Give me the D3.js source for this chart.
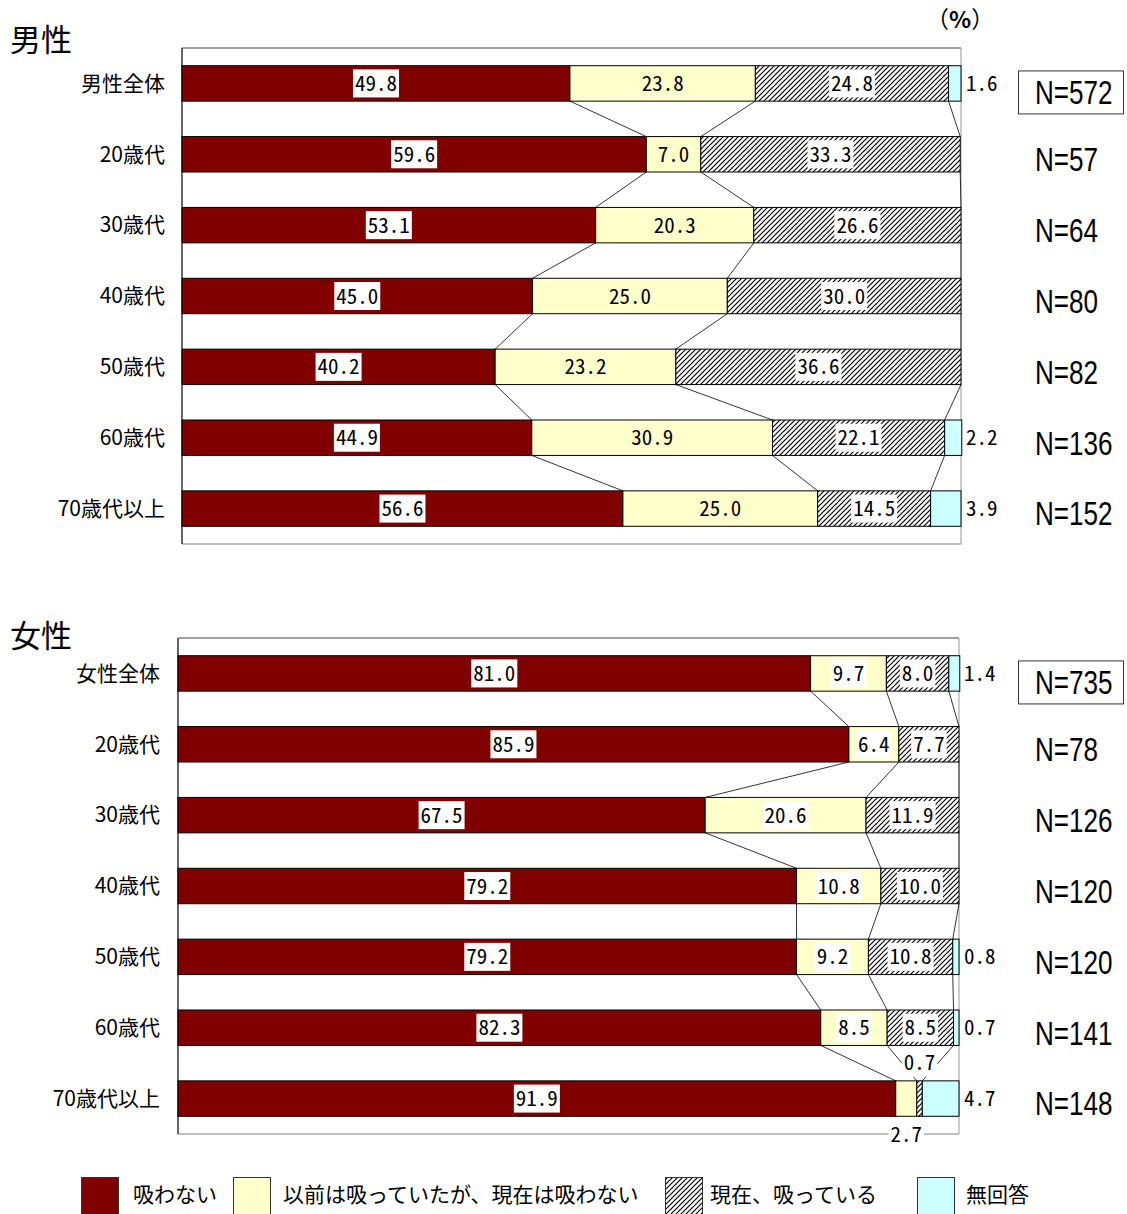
<!DOCTYPE html>
<html lang="ja">
<head>
<meta charset="utf-8">
<script src="https://cdn.jsdelivr.net/npm/d3@7"></script>
<style>
  html, body { margin: 0; padding: 0; background: #fff; }
  svg { display: block; }
  .cjk { font-family: "Noto Sans CJK JP", "Noto Sans", sans-serif; }
  .num { font-family: "Noto Sans Mono CJK JP", "Liberation Mono", "DejaVu Sans Mono", monospace; }
  .nlab { font-family: "Liberation Sans", Arial, sans-serif; }
</style>
</head>
<body>
<script>
// ---- data ----
const maleCategories = ["男性全体", "20歳代", "30歳代", "40歳代", "50歳代", "60歳代", "70歳代以上"];
const maleNonSmoker = [49.8, 59.6, 53.1, 45.0, 40.2, 44.9, 56.6];
const maleFormer    = [23.8, 7.0, 20.3, 25.0, 23.2, 30.9, 25.0];
const maleSmoker    = [24.8, 33.3, 26.6, 30.0, 36.6, 22.1, 14.5];
const maleNoAnswer  = [1.6, 0, 0, 0, 0, 2.2, 3.9];
const maleN         = [572, 57, 64, 80, 82, 136, 152];

const femaleCategories = ["女性全体", "20歳代", "30歳代", "40歳代", "50歳代", "60歳代", "70歳代以上"];
const femaleNonSmoker = [81.0, 85.9, 67.5, 79.2, 79.2, 82.3, 91.9];
const femaleFormer    = [9.7, 6.4, 20.6, 10.8, 9.2, 8.5, 2.7];
const femaleSmoker    = [8.0, 7.7, 11.9, 10.0, 10.8, 8.5, 0.7];
const femaleNoAnswer  = [1.4, 0, 0, 0, 0.8, 0.7, 4.7];
const femaleN         = [735, 78, 126, 120, 120, 141, 148];

const seriesNames = ["吸わない", "以前は吸っていたが、現在は吸わない", "現在、吸っている", "無回答"];

// ---- drawing ----
const W = 1127, H = 1214;
const svg = d3.select("body").append("svg").attr("width", W).attr("height", H);

const defs = svg.append("defs");
const pat = defs.append("pattern")
  .attr("id", "hatch").attr("patternUnits", "userSpaceOnUse")
  .attr("width", 5).attr("height", 5);
pat.append("rect").attr("width", 5).attr("height", 5).attr("fill", "#fff");
pat.append("path")
  .attr("d", "M-1,1 l2,-2 M0,5 l5,-5 M4,6 l2,-2")
  .attr("stroke", "#000").attr("stroke-width", 1.2);

const fills = ["#800000", "#FFFFCC", "url(#hatch)", "#CCFFFF"];
const fmt = d3.format(".1f");

// numeric labels in a half-width monospace face
const NUM_SIZE = 21, NUM_SX = 1;
function labelBox(g, x, y, text, withBox, anchor) {
  const a = anchor || "middle";
  const t = g.append("text")
    .attr("class", "num")
    .attr("transform", `translate(${x},${y}) scale(${NUM_SX},1)`)
    .attr("dy", "0.36em")
    .attr("text-anchor", a)
    .attr("font-size", NUM_SIZE)
    .attr("fill", "#000")
    .text(text);
  if (withBox) {
    const w = t.node().getComputedTextLength() * NUM_SX;
    const x0 = a === "middle" ? x - w / 2 : x;
    g.insert("rect", () => t.node())
      .attr("x", x0 - 2).attr("y", y - 14)
      .attr("width", w + 4).attr("height", 28)
      .attr("fill", "#fff");
  }
  return t;
}

function drawPanel(opt) {
  const { title, titleY, top, left, right, categories, series, nValues, labelX, yellowBox } = opt;
  const bottom = top + 496;
  const g = svg.append("g");

  const x = d3.scaleLinear().domain([0, 100]).range([left, right]);
  const y = d3.scaleBand().domain(categories).range([top, bottom])
    .paddingInner(0.5).paddingOuter(0.25);

  // title
  g.append("text").attr("class", "cjk")
    .attr("x", 10).attr("y", titleY)
    .attr("font-size", 31).attr("fill", "#000")
    .text(title);

  // plot area frame
  g.append("line").attr("x1", left).attr("x2", right).attr("y1", top).attr("y2", top)
    .attr("stroke", "#444").attr("stroke-width", 1);
  g.append("line").attr("x1", right).attr("x2", right).attr("y1", top).attr("y2", bottom)
    .attr("stroke", "#999").attr("stroke-width", 1);
  g.append("line").attr("x1", left).attr("x2", right).attr("y1", bottom).attr("y2", bottom)
    .attr("stroke", "#aaa").attr("stroke-width", 1.5);
  g.append("line").attr("x1", left).attr("x2", left).attr("y1", top).attr("y2", bottom)
    .attr("stroke", "#333").attr("stroke-width", 1.5);

  // stacked rows
  const rows = categories.map((c, i) => {
    const vals = series.map(s => s[i]);
    let acc = 0;
    const segs = vals.map((v, k) => { const s = { k, v, x0: acc, x1: acc + v }; acc += v; return s; });
    return { c, i, segs };
  });

  // connector lines between consecutive bars at each boundary
  const conn = g.append("g");
  for (let i = 0; i < rows.length - 1; i++) {
    for (let k = 0; k < 3; k++) {
      conn.append("line")
        .attr("x1", x(rows[i].segs[k].x1)).attr("y1", y(rows[i].c) + y.bandwidth())
        .attr("x2", x(rows[i + 1].segs[k].x1)).attr("y2", y(rows[i + 1].c))
        .attr("stroke", "#000").attr("stroke-width", 0.8);
    }
  }

  // bars
  rows.forEach(r => {
    r.segs.forEach(s => {
      if (s.v <= 0) return;
      g.append("rect")
        .attr("x", x(s.x0)).attr("y", y(r.c))
        .attr("width", x(s.x1) - x(s.x0)).attr("height", y.bandwidth())
        .attr("fill", fills[s.k])
        .attr("stroke", "#000").attr("stroke-width", 1);
    });
  });

  // value labels
  const lab = g.append("g");
  rows.forEach(r => {
    const cy = y(r.c) + y.bandwidth() / 2;
    r.segs.forEach(s => {
      if (s.v <= 0) return;
      const cx = (x(s.x0) + x(s.x1)) / 2;
      const w = x(s.x1) - x(s.x0);
      if (s.k === 3) {
        labelBox(lab, right + 5, cy, fmt(s.v), false, "start");
      } else if (w < 28) {
        // narrow segments: former-smoker value sits on the frame bottom,
        // current-smoker value sits in the gap above the bar
        if (s.k === 1) labelBox(lab, cx, bottom, fmt(s.v), true);
        else labelBox(lab, cx, y(r.c) - 18, fmt(s.v), true);
      } else {
        const box = s.k === 1 ? yellowBox : true;
        labelBox(lab, cx, cy, fmt(s.v), box);
      }
    });
  });

  // category labels
  g.append("g").selectAll("text").data(categories).join("text")
    .attr("class", "cjk")
    .attr("x", labelX).attr("y", d => y(d) + y.bandwidth() / 2)
    .attr("dy", "0.35em").attr("text-anchor", "end")
    .attr("font-size", 21).attr("fill", "#000")
    .text(d => d);

  // sample sizes (condensed sans)
  const ng = g.append("g");
  categories.forEach((c, i) => {
    const cy = y(c) + y.bandwidth() / 2 + (i === 0 ? 9 : 5);
    ng.append("text").attr("class", "nlab")
      .attr("transform", `translate(1035,${cy}) scale(0.79,1)`)
      .attr("dy", "0.36em")
      .attr("font-size", 33).attr("fill", "#000")
      .text("N=" + nValues[i]);
    if (i === 0) {
      ng.append("rect")
        .attr("x", 1018.5).attr("y", cy - 21.5)
        .attr("width", 105).attr("height", 43)
        .attr("fill", "none").attr("stroke", "#333").attr("stroke-width", 1);
    }
  });
}

drawPanel({
  title: "男性", titleY: 51, top: 48, left: 182, right: 961,
  categories: maleCategories,
  series: [maleNonSmoker, maleFormer, maleSmoker, maleNoAnswer],
  nValues: maleN, labelX: 165, yellowBox: false
});

drawPanel({
  title: "女性", titleY: 647, top: 638, left: 178, right: 959,
  categories: femaleCategories,
  series: [femaleNonSmoker, femaleFormer, femaleSmoker, femaleNoAnswer],
  nValues: femaleN, labelX: 160, yellowBox: true
});

// unit label
const unit = svg.append("text").attr("class", "cjk")
  .attr("x", 926).attr("y", 28).attr("font-size", 23).attr("fill", "#000");
unit.append("tspan").text("（");
unit.append("tspan").attr("font-weight", "bold").text("%");
unit.append("tspan").text("）");

// legend
const legendX = [81, 233, 665, 917];
const legendTextX = [133, 283, 710, 966];
const lg = svg.append("g");
seriesNames.forEach((name, k) => {
  lg.append("rect")
    .attr("x", legendX[k] + 0.5).attr("y", 1177.5)
    .attr("width", 37).attr("height", 40)
    .attr("fill", fills[k]).attr("stroke", "#333").attr("stroke-width", 1);
  lg.append("text").attr("class", "cjk")
    .attr("x", legendTextX[k]).attr("y", 1195)
    .attr("dy", "0.35em").attr("font-size", 21).attr("fill", "#000")
    .text(name);
});
</script>
</body>
</html>
